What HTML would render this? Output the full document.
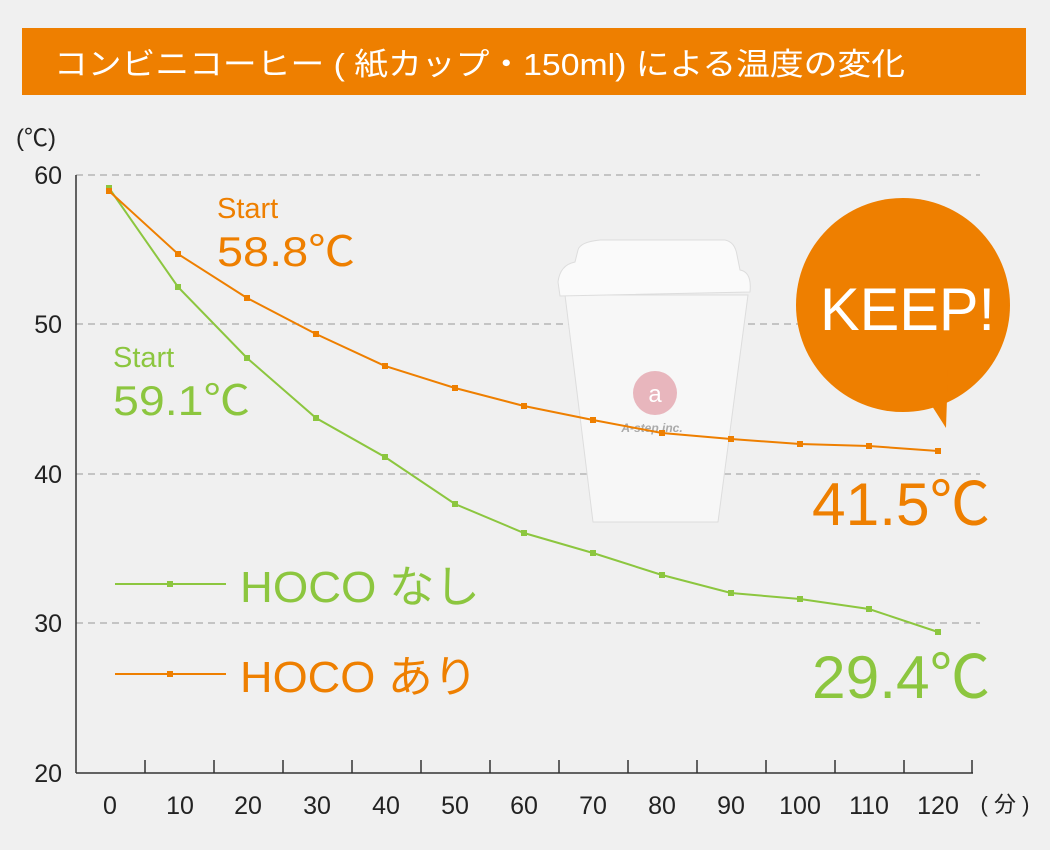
<!DOCTYPE html>
<html><head><meta charset="utf-8"><style>
body{margin:0;background:#f0f0f0;}
svg{display:block;font-family:"Liberation Sans","Noto Sans CJK JP",sans-serif;}
</style></head><body>
<svg width="1050" height="850" viewBox="0 0 1050 850">
<rect width="1050" height="850" fill="#f0f0f0"/>
<rect x="22" y="28" width="1004" height="67" fill="#ee7f00"/>
<text x="54" y="75" font-size="31" fill="#fff" textLength="851" lengthAdjust="spacingAndGlyphs">コンビニコーヒー ( 紙カップ・150ml) による温度の変化</text>
<text x="16" y="146" font-size="24" fill="#222">(℃)</text>
<g stroke="#aaa" stroke-dasharray="7,5" stroke-width="1.2">
<line x1="76" y1="175" x2="980" y2="175"/><line x1="76" y1="324" x2="980" y2="324"/>
<line x1="76" y1="474" x2="980" y2="474"/><line x1="76" y1="623" x2="980" y2="623"/>
</g>
<g fill="#222" font-size="25" text-anchor="end">
<text x="62" y="184">60</text><text x="62" y="333">50</text><text x="62" y="483">40</text><text x="62" y="632">30</text><text x="62" y="782">20</text>
</g>
<g stroke="#333" stroke-width="1.5">
<line x1="76" y1="175" x2="76" y2="773"/><line x1="76" y1="773" x2="973" y2="773"/>
<line x1="145" y1="773" x2="145" y2="760"/><line x1="214" y1="773" x2="214" y2="760"/><line x1="283" y1="773" x2="283" y2="760"/><line x1="352" y1="773" x2="352" y2="760"/><line x1="421" y1="773" x2="421" y2="760"/><line x1="490" y1="773" x2="490" y2="760"/><line x1="559" y1="773" x2="559" y2="760"/><line x1="628" y1="773" x2="628" y2="760"/><line x1="697" y1="773" x2="697" y2="760"/><line x1="766" y1="773" x2="766" y2="760"/><line x1="835" y1="773" x2="835" y2="760"/><line x1="904" y1="773" x2="904" y2="760"/><line x1="972" y1="773" x2="972" y2="760"/>
</g>
<g fill="#222" font-size="25" text-anchor="middle">
<text x="110" y="814">0</text><text x="180" y="814">10</text><text x="248" y="814">20</text><text x="317" y="814">30</text><text x="386" y="814">40</text><text x="455" y="814">50</text><text x="524" y="814">60</text><text x="593" y="814">70</text><text x="662" y="814">80</text><text x="731" y="814">90</text><text x="800" y="814">100</text><text x="869" y="814">110</text><text x="938" y="814">120</text>
<text x="1005" y="812" font-size="22">( 分 )</text>
</g>
<g>
<path d="M565 295 L748 295 L718 522 L593 522 Z" fill="#f7f7f7" stroke="#ddd"/>
<path d="M558 282 Q560 265 575 262 L578 250 Q580 242 600 240 L725 240 Q735 242 737 255 L740 270 Q752 272 750 292 L560 296 Z" fill="#fafafa" stroke="#ddd"/>
<circle cx="655" cy="393" r="22" fill="#e8b6bd"/>
<text x="655" y="402" font-size="24" fill="#fff" text-anchor="middle">a</text>
<text x="652" y="432" font-size="12" fill="#aaa" text-anchor="middle" font-style="italic" font-weight="bold">A-step inc.</text>
</g>
<circle cx="903" cy="305" r="107" fill="#ee7f00"/>
<path d="M925 395 L946 428 L948 370 Z" fill="#ee7f00"/>
<text x="820" y="330" font-size="60" fill="#fff" textLength="175" lengthAdjust="spacingAndGlyphs">KEEP!</text>
<polyline fill="none" stroke="#8cc63f" stroke-width="2" points="109,188 178,287 247,358 316,418 385,457 455,504 524,533 593,553 662,575 731,593 800,599 869,609 938,632"/>
<g fill="#8cc63f"><rect x="106" y="185" width="6" height="6"/><rect x="175" y="284" width="6" height="6"/><rect x="244" y="355" width="6" height="6"/><rect x="313" y="415" width="6" height="6"/><rect x="382" y="454" width="6" height="6"/><rect x="452" y="501" width="6" height="6"/><rect x="521" y="530" width="6" height="6"/><rect x="590" y="550" width="6" height="6"/><rect x="659" y="572" width="6" height="6"/><rect x="728" y="590" width="6" height="6"/><rect x="797" y="596" width="6" height="6"/><rect x="866" y="606" width="6" height="6"/><rect x="935" y="629" width="6" height="6"/></g>
<polyline fill="none" stroke="#ee7f00" stroke-width="2" points="109,191 178,254 247,298 316,334 385,366 455,388 524,406 593,420 662,433 731,439 800,444 869,446 938,451"/>
<g fill="#ee7f00"><rect x="106" y="188" width="6" height="6"/><rect x="175" y="251" width="6" height="6"/><rect x="244" y="295" width="6" height="6"/><rect x="313" y="331" width="6" height="6"/><rect x="382" y="363" width="6" height="6"/><rect x="452" y="385" width="6" height="6"/><rect x="521" y="403" width="6" height="6"/><rect x="590" y="417" width="6" height="6"/><rect x="659" y="430" width="6" height="6"/><rect x="728" y="436" width="6" height="6"/><rect x="797" y="441" width="6" height="6"/><rect x="866" y="443" width="6" height="6"/><rect x="935" y="448" width="6" height="6"/></g>
<text x="217" y="218" font-size="29" fill="#ee7f00">Start</text>
<text x="217" y="266" font-size="42" fill="#ee7f00" textLength="138" lengthAdjust="spacingAndGlyphs">58.8℃</text>
<text x="113" y="367" font-size="29" fill="#8cc63f">Start</text>
<text x="113" y="415" font-size="42" fill="#8cc63f" textLength="137" lengthAdjust="spacingAndGlyphs">59.1℃</text>
<text x="812" y="525" font-size="60" fill="#ee7f00" textLength="178" lengthAdjust="spacingAndGlyphs">41.5℃</text>
<text x="812" y="698" font-size="60" fill="#8cc63f" textLength="178" lengthAdjust="spacingAndGlyphs">29.4℃</text>
<line x1="115" y1="584" x2="226" y2="584" stroke="#8cc63f" stroke-width="2"/><rect x="167" y="581" width="6" height="6" fill="#8cc63f"/>
<text x="240" y="602" font-size="44" fill="#8cc63f" textLength="240" lengthAdjust="spacingAndGlyphs">HOCO なし</text>
<line x1="115" y1="674" x2="226" y2="674" stroke="#ee7f00" stroke-width="2"/><rect x="167" y="671" width="6" height="6" fill="#ee7f00"/>
<text x="240" y="692" font-size="44" fill="#ee7f00" textLength="238" lengthAdjust="spacingAndGlyphs">HOCO あり</text>
</svg>
</body></html>
